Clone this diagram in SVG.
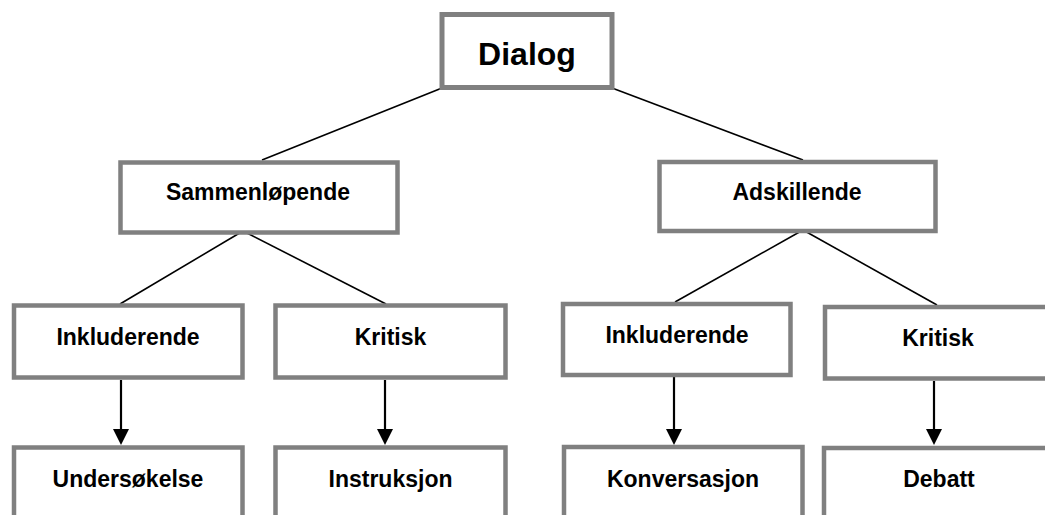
<svg xmlns="http://www.w3.org/2000/svg" width="1045" height="515" viewBox="0 0 1045 515">
<style>
.box{fill:#ffffff;stroke:#808080;stroke-width:4.5}
.lbl{font-family:"Liberation Sans",Arial,sans-serif;font-weight:bold;font-size:23px;fill:#000;text-anchor:middle}
.big{font-size:32px}
.ln{stroke:#000;stroke-width:1.6;fill:none}
.ar{stroke:#000;stroke-width:2.2;fill:none}
.hd{fill:#000}
</style>
<rect x="0" y="0" width="1045" height="515" fill="#ffffff"/>
<g id="connectors">
<line class="ln" x1="442" y1="88" x2="262" y2="160"/>
<line class="ln" x1="612" y1="88" x2="803" y2="160"/>
<line class="ln" x1="243" y1="231" x2="120" y2="304"/>
<line class="ln" x1="243" y1="231" x2="386" y2="304"/>
<line class="ln" x1="803" y1="230" x2="675" y2="302"/>
<line class="ln" x1="803" y1="230" x2="937" y2="305"/>
<line class="ar" x1="121" y1="380" x2="121" y2="432"/>
<polygon class="hd" points="113,429 129,429 121,445"/>
<line class="ar" x1="385" y1="380" x2="385" y2="432"/>
<polygon class="hd" points="377,429 393,429 385,445"/>
<line class="ar" x1="674" y1="377" x2="674" y2="432"/>
<polygon class="hd" points="666,429 682,429 674,445"/>
<line class="ar" x1="934" y1="381" x2="934" y2="432"/>
<polygon class="hd" points="926,429 942,429 934,445"/>
</g>
<g id="n-dialog">
<rect class="box" x="442" y="14.5" width="170" height="73" style="stroke-width:5"/>
<text class="lbl big" x="527" y="65">Dialog</text>
</g>
<g id="n-sammenlopende">
<rect class="box" x="120.5" y="162.5" width="277" height="70"/>
<text class="lbl" x="258" y="200">Sammenløpende</text>
</g>
<g id="n-adskillende">
<rect class="box" x="659.5" y="162" width="276" height="69"/>
<text class="lbl" x="797" y="200">Adskillende</text>
</g>
<g id="n-inkl-left">
<rect class="box" x="14" y="305.5" width="228.5" height="72"/>
<text class="lbl" x="128" y="345">Inkluderende</text>
</g>
<g id="n-kritisk-left">
<rect class="box" x="275.5" y="305.5" width="230" height="72"/>
<text class="lbl" x="390.5" y="345">Kritisk</text>
</g>
<g id="n-inkl-right">
<rect class="box" x="563" y="304" width="227.5" height="71"/>
<text class="lbl" x="677" y="343">Inkluderende</text>
</g>
<g id="n-kritisk-right">
<rect class="box" x="825" y="307" width="240" height="71.5"/>
<text class="lbl" x="938" y="346">Kritisk</text>
</g>
<g id="n-undersokelse">
<rect class="box" x="14" y="447.5" width="228.5" height="100"/>
<text class="lbl" x="128" y="487">Undersøkelse</text>
</g>
<g id="n-instruksjon">
<rect class="box" x="275.5" y="447.5" width="230" height="100"/>
<text class="lbl" x="390.5" y="487">Instruksjon</text>
</g>
<g id="n-konversasjon">
<rect class="box" x="564" y="447" width="238.5" height="100"/>
<text class="lbl" x="683" y="487">Konversasjon</text>
</g>
<g id="n-debatt">
<rect class="box" x="824" y="448" width="240" height="100"/>
<text class="lbl" x="939" y="487">Debatt</text>
</g>
</svg>
